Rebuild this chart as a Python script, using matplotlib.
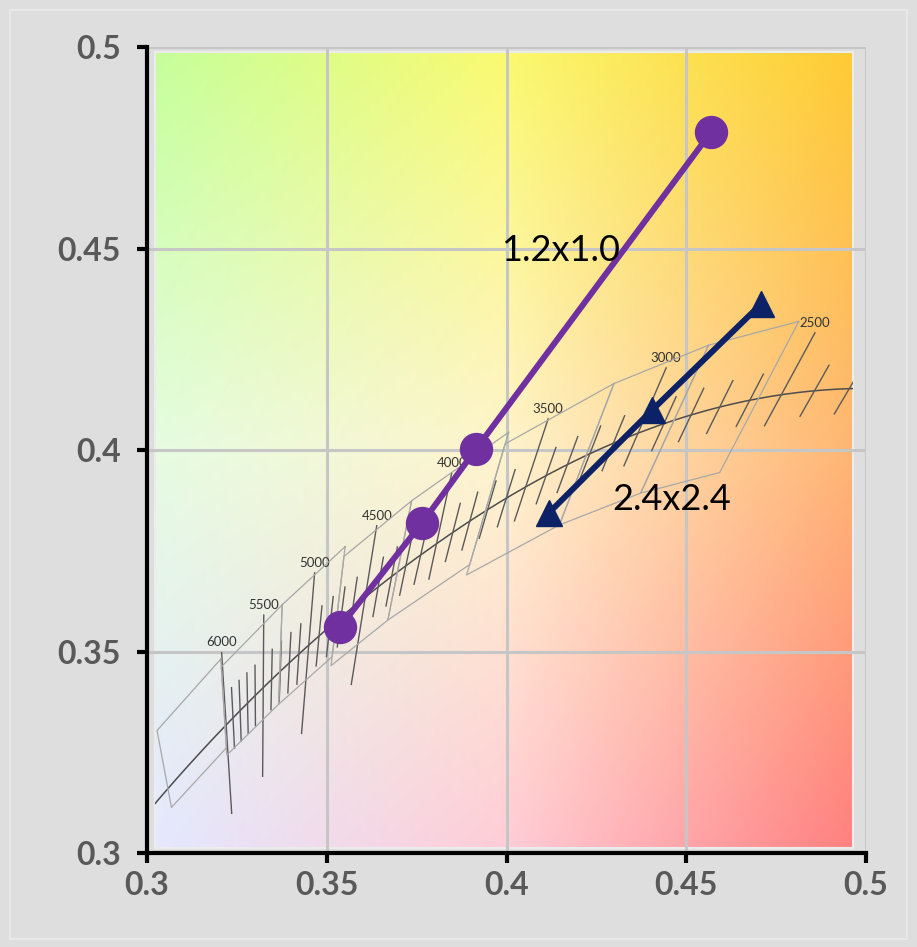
import matplotlib
matplotlib.use('Agg')
import matplotlib.pyplot as plt
import matplotlib.patches as patches
import numpy as np

# Measured chromaticity points (CIE 1931 x, y)
series_a_x = [0.4569, 0.3915, 0.3765, 0.3537]
series_a_y = [0.4789, 0.4002, 0.3819, 0.3561]
series_b_x = [0.4708, 0.4405, 0.4118]
series_b_y = [0.4362, 0.4099, 0.3844]
series_a_name = '1.2x1.0'
series_b_name = '2.4x2.4'

tick_values = [0.3, 0.35, 0.4, 0.45, 0.5]
tick_labels = ['0.3', '0.35', '0.4', '0.45', '0.5']

# Planckian locus decorations
cct_labelled = [6000, 5500, 5000, 4500, 4000, 3500, 3000, 2500]
cct_hatch = list(range(2300, 6100, 100))
locus_range = (2150, 7800)

# ANSI C78.377 quadrangle corners (x, y)
ansi_quads = [
    [(0.4813, 0.4319), (0.4562, 0.4260), (0.4373, 0.3893), (0.4593, 0.3944)],
    [(0.4562, 0.4260), (0.4299, 0.4165), (0.4147, 0.3814), (0.4373, 0.3893)],
    [(0.4299, 0.4165), (0.3996, 0.4015), (0.3889, 0.3690), (0.4147, 0.3814)],
    [(0.4006, 0.4044), (0.3736, 0.3874), (0.3670, 0.3578), (0.3898, 0.3716)],
    [(0.3736, 0.3874), (0.3548, 0.3736), (0.3512, 0.3465), (0.3670, 0.3578)],
    [(0.3551, 0.3760), (0.3376, 0.3616), (0.3366, 0.3369), (0.3515, 0.3487)],
    [(0.3376, 0.3616), (0.3207, 0.3462), (0.3222, 0.3243), (0.3366, 0.3369)],
    [(0.3205, 0.3481), (0.3028, 0.3304), (0.3068, 0.3113), (0.3221, 0.3261)],
]


def planck_xy(T):
    # Kim et al. cubic approximation of the Planckian locus
    T = np.asarray(T, dtype=float)
    x = np.where(T <= 4000,
                 -0.2661239e9 / T**3 - 0.2343589e6 / T**2 + 0.8776956e3 / T + 0.179910,
                 -3.0258469e9 / T**3 + 2.1070379e6 / T**2 + 0.2226347e3 / T + 0.240390)
    y = np.where(T <= 2222,
                 -1.1063814 * x**3 - 1.34811020 * x**2 + 2.18555832 * x - 0.20219683,
                 np.where(T <= 4000,
                          -0.9549476 * x**3 - 1.37418593 * x**2 + 2.09137015 * x - 0.16748867,
                          3.0817580 * x**3 - 5.87338670 * x**2 + 3.75112997 * x - 0.37001483))
    return x, y


def xy_to_uv(x, y):
    d = -2 * x + 12 * y + 3
    return 4 * x / d, 6 * y / d


def uv_to_xy(u, v):
    d = 2 * u - 8 * v + 4
    return 3 * u / d, 2 * v / d


def isotherm(T, below, above):
    # isotherm through the locus point, lengths measured in xy units
    x0, y0 = planck_xy(T)
    u0, v0 = xy_to_uv(x0, y0)
    u1, v1 = xy_to_uv(*planck_xy(T + 1.0))
    tu, tv = u1 - u0, v1 - v0
    nu, nv = -tv, tu
    if nv < 0:
        nu, nv = -nu, -nv
    s = 0.001 / np.hypot(nu, nv)
    xp, yp = uv_to_xy(u0 + s * nu, v0 + s * nv)
    dx, dy = xp - x0, yp - y0
    d = np.hypot(dx, dy)
    dx, dy = dx / d, dy / d
    return [x0 - below * dx, x0 + above * dx], [y0 - below * dy, y0 + above * dy]


fig = plt.figure(figsize=(9.17, 9.47), dpi=100, facecolor='#dedede')
fig.patches.append(patches.Rectangle((10 / 917, 8 / 947), 897 / 917, 929 / 947,
                                     transform=fig.transFigure, fill=False,
                                     edgecolor='#ebebeb', linewidth=1.2))
ax = fig.add_axes([147 / 917, 94 / 947, 719 / 917, 806 / 947])
ax.set_facecolor('none')
ax.set_xlim(0.3, 0.5)
ax.set_ylim(0.3, 0.5)

# Background colour field behind the plot
img_ext = (0.3022, 0.4965, 0.3012, 0.4988)
corners = np.array([
    [[228, 232, 255], [255, 205, 215], [255, 128, 128]],
    [[230, 252, 225], [255, 244, 205], [255, 182, 115]],
    [[198, 255, 155], [250, 250, 112], [255, 203, 52]],
], dtype=float) / 255.0
n = 240
t = np.linspace(0, 2, n)
rows = np.empty((3, n, 3))
for i in range(3):
    for c in range(3):
        rows[i, :, c] = np.interp(t, [0, 1, 2], corners[i, :, c])
field = np.empty((n, n, 3))
for j in range(n):
    for c in range(3):
        field[:, j, c] = np.interp(t, [0, 1, 2], rows[:, j, c])
ax.imshow(field, origin='lower', extent=img_ext, aspect='auto',
          interpolation='bilinear', zorder=0.1)
ax.add_patch(patches.Rectangle((img_ext[0], img_ext[2]), img_ext[1] - img_ext[0],
                               img_ext[3] - img_ext[2], fill=False,
                               edgecolor='#ececec', linewidth=1.5, zorder=0.2))
clip = patches.Rectangle((img_ext[0], img_ext[2]), img_ext[1] - img_ext[0],
                         img_ext[3] - img_ext[2], transform=ax.transData)

# Planckian locus, isotherms and ANSI quadrangles
temps = np.linspace(locus_range[0], locus_range[1], 400)
lx, ly = planck_xy(temps)
line, = ax.plot(lx, ly, color='#4d4d4d', lw=1.1, zorder=1)
line.set_clip_path(clip)

for T in cct_hatch:
    if T in cct_labelled:
        continue
    xs, ys = isotherm(T, 0.0075, 0.0075)
    ln, = ax.plot(xs, ys, color='#5a5a5a', lw=1.0, zorder=1)
    ln.set_clip_path(clip)

for T in cct_labelled:
    below = 0.022 if T >= 4500 else 0.009
    xs, ys = isotherm(T, below, 0.018)
    ln, = ax.plot(xs, ys, color='#5a5a5a', lw=1.0, zorder=1)
    ln.set_clip_path(clip)
    ax.annotate(str(T), (xs[1], ys[1]), xytext=(0, 3), textcoords='offset points',
                ha='center', va='bottom', fontsize=9.5, color='#333333',
                family='Lato', zorder=1)

for quad in ansi_quads:
    qx = [p[0] for p in quad] + [quad[0][0]]
    qy = [p[1] for p in quad] + [quad[0][1]]
    ln, = ax.plot(qx, qy, color='#a8a8a8', lw=0.9, zorder=1)
    ln.set_clip_path(clip)

# Grid
ax.set_axisbelow(True)
ax.grid(True, color='#c6c6c6', linewidth=2.2)

# Data series
ax.plot(series_a_x, series_a_y, color='#7030a0', lw=4.3, marker='o',
        markersize=23, zorder=4)
ax.plot(series_b_x, series_b_y, color='#0d2266', lw=4.3, marker='^',
        markersize=19, zorder=4)
ax.text(0.4149, 0.4496, series_a_name, ha='center', va='center', fontsize=26,
        family='Lato', color='black', zorder=5)
ax.text(0.4458, 0.3876, series_b_name, ha='center', va='center', fontsize=26,
        family='Lato', color='black', zorder=5)

# Axes styling
for side in ('top', 'right'):
    ax.spines[side].set_visible(False)
for side in ('left', 'bottom'):
    ax.spines[side].set_linewidth(3)
    ax.spines[side].set_color('black')
ax.set_xticks(tick_values)
ax.set_xticklabels(tick_labels)
ax.set_yticks(tick_values)
ax.set_yticklabels(tick_labels)
ax.tick_params(axis='both', direction='out', length=7, width=3, color='black',
               labelcolor='#595959', labelsize=23)
ax.tick_params(axis='x', pad=6)
ax.tick_params(axis='y', pad=12)
for lab in ax.get_xticklabels() + ax.get_yticklabels():
    lab.set_fontweight('bold')
    lab.set_family('Lato')

fig.savefig('out.png', dpi=100, facecolor=fig.get_facecolor())
